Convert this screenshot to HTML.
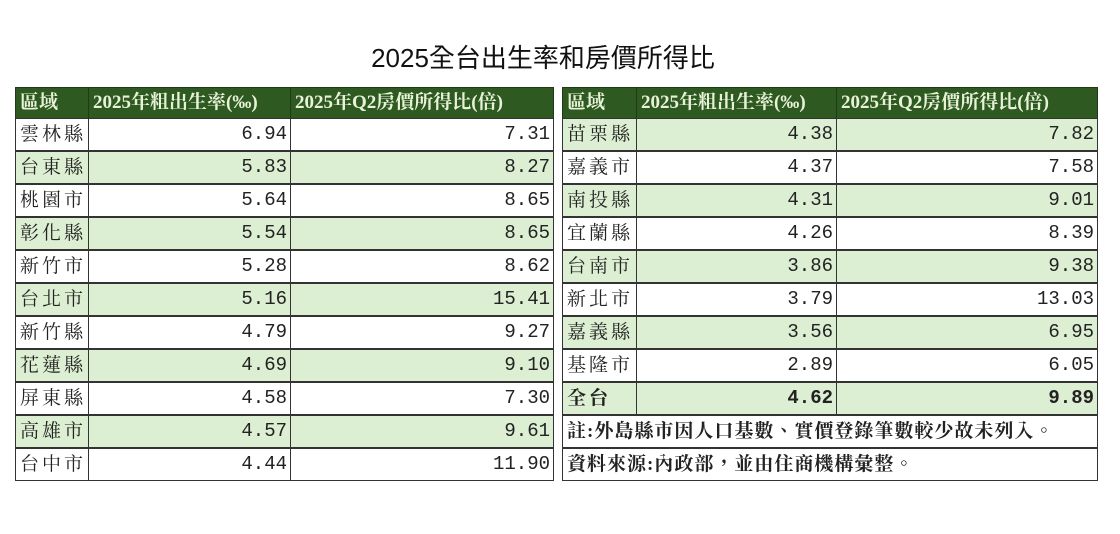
<!DOCTYPE html>
<html><head><meta charset="utf-8"><style>
body{margin:0;width:1120px;height:534px;background:#fff;position:relative;overflow:hidden;font-family:"Liberation Serif","Noto Serif CJK TC",serif}
.t{position:absolute;left:0;top:38px;width:1086px;text-align:center;font:26px "Liberation Sans","Noto Sans CJK TC",sans-serif;color:#111}
.c{position:absolute;box-sizing:border-box;border:1px solid #333;height:33px;line-height:31px;font-size:19px;color:#222;white-space:nowrap;overflow:hidden}
.h{background:#2e5a22;color:#e8f2d8;font-weight:bold;font-size:19px;padding-left:4px;border-color:#1e3a16}
.g{background:#dcefd2}
.n{text-align:right;padding-right:3px;font-family:"Liberation Mono","Noto Serif CJK TC",monospace;font-size:19px}
.l{padding-left:4px;letter-spacing:3px}
.s{letter-spacing:1px}
.b{font-weight:bold}
</style></head><body>
<div class="t">2025全台出生率和房價所得比</div>
<div id="r"></div>
<script>
var L=[["雲林縣","6.94","7.31"],["台東縣","5.83","8.27"],["桃園市","5.64","8.65"],["彰化縣","5.54","8.65"],["新竹市","5.28","8.62"],["台北市","5.16","15.41"],["新竹縣","4.79","9.27"],["花蓮縣","4.69","9.10"],["屏東縣","4.58","7.30"],["高雄市","4.57","9.61"],["台中市","4.44","11.90"]];
var R=[["苗栗縣","4.38","7.82"],["嘉義市","4.37","7.58"],["南投縣","4.31","9.01"],["宜蘭縣","4.26","8.39"],["台南市","3.86","9.38"],["新北市","3.79","13.03"],["嘉義縣","3.56","6.95"],["基隆市","2.89","6.05"],["全台","4.62","9.89"]];
var h="";
function cell(x,y,w,cls,t,hh){h+='<div class="c '+cls+'" style="left:'+x+'px;top:'+y+'px;width:'+w+'px'+(hh?';height:'+hh+'px;line-height:'+(hh-2)+'px':'')+'">'+t+'</div>';}
function tab(x,cols,data,startG){
 var hd=["區域","2025年粗出生率(‰)","2025年Q2房價所得比(倍)"];
 var xs=[x,cols[0],cols[1],cols[2]];
 for(var i=0;i<3;i++)cell(xs[i],87,xs[i+1]-xs[i]+1,"h",hd[i],32);
 data.forEach(function(r,j){var y=118+j*33;var g=((j%2==0)==startG)?"g":"";var b=r[0]=="全台"?" b":"";
  cell(xs[0],y,xs[1]-xs[0]+1,"l "+g+b,r[0]);cell(xs[1],y,xs[2]-xs[1]+1,"n "+g+b,r[1]);cell(xs[2],y,xs[3]-xs[2]+1,"n "+g+b,r[2]);});
}
tab(15,[88,290,553],L,false);
tab(562,[636,836,1097],R,true);
cell(562,415,536,"l s b","註:外島縣市因人口基數、實價登錄筆數較少故未列入。");
cell(562,448,536,"l s b","資料來源:內政部，並由住商機構彙整。");
document.getElementById("r").innerHTML=h;
</script>
</body></html>
